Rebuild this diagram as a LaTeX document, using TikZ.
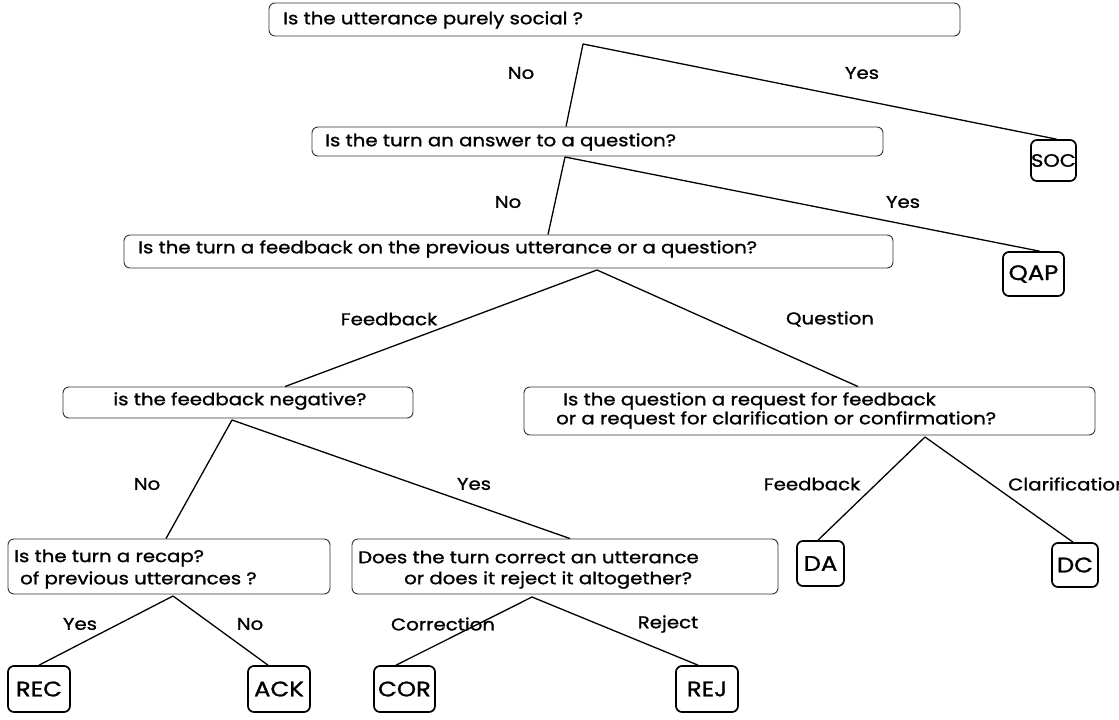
\documentclass[tikz,border=0pt]{standalone}
\usepackage{fontspec}
\setmainfont{Poppins}[FakeStretch=1.16, FakeBold=1.2]
\begin{document}
\begin{tikzpicture}[x=1pt,y=-1pt,
  qbox/.style={draw=black!80, line width=0.9pt, rounded corners=6pt, inner sep=0pt},
  leaf/.style={draw=black, line width=1.7pt, rounded corners=6pt, inner sep=0pt, font=\fontsize{21}{24}\selectfont},
  txt/.style={inner sep=0pt, anchor=west, font=\fontsize{17}{20}\selectfont},
  lbl/.style={inner sep=0pt, font=\fontsize{17}{20}\selectfont},
  edge/.style={draw=black, line width=1.3pt}]
\clip (0,0) rectangle (1119,720);
% question boxes
\node[qbox, minimum width=691pt, minimum height=33pt] (b1) at (614.5,19.5) {};
\node[qbox, minimum width=571pt, minimum height=29pt] (b2) at (597.5,141.5) {};
\node[qbox, minimum width=769pt, minimum height=33pt] (b3) at (508.5,251.5) {};
\node[qbox, minimum width=350pt, minimum height=31pt] (b4) at (238,402.5) {};
\node[qbox, minimum width=571pt, minimum height=48pt] (b5) at (809.5,411) {};
\node[qbox, minimum width=322pt, minimum height=55pt] (b6) at (169,566.5) {};
\node[qbox, minimum width=426pt, minimum height=55pt] (b7) at (565,566.5) {};
% box texts
\node[txt] (t1) at (283,20) {Is the utterance purely social ?};
\node[txt] (t2) at (325,142) {Is the turn an answer to a question?};
\node[txt] (t3) at (138,249) {Is the turn a feedback on the previous utterance or a question?};
\node[lbl] (t4) at (240,401) {is the feedback negative?};
\node[txt] (t5a) at (563,401) {Is the question a request for feedback};
\node[txt] (t5b) at (556,420) {or a request for clarification or confirmation?};
\node[txt] (t6a) at (14,558) {Is the turn a recap?};
\node[txt] (t6b) at (20,580) {of previous utterances ?};
\node[txt] (t7a) at (358,557) {Does the turn correct an utterance};
\node[txt] (t7b) at (404,580) {or does it reject it altogether?};
% leaves
\node[leaf, minimum width=45pt, minimum height=41pt, font=\fontsize{18}{21}\selectfont] (soc) at (1053.5,160.5) {SOC};
\node[leaf, minimum width=61pt, minimum height=44pt] (qap) at (1033.5,274) {QAP};
\node[leaf, minimum width=47pt, minimum height=45pt] (da) at (820.5,563.5) {DA};
\node[leaf, minimum width=46pt, minimum height=44pt] (dc) at (1075,565) {DC};
\node[leaf, minimum width=62pt, minimum height=46pt] (rec) at (39,689) {REC};
\node[leaf, minimum width=62pt, minimum height=46pt] (ack) at (279,689) {ACK};
\node[leaf, minimum width=61pt, minimum height=46pt] (cor) at (404.5,689) {COR};
\node[leaf, minimum width=62pt, minimum height=46pt] (rej) at (707,689) {REJ};
% branch points
\coordinate (p1) at (583,44);
\coordinate (p2) at (565,157);
\coordinate (p3) at (597,270);
\coordinate (p4) at (232,420);
\coordinate (p5) at (925,437);
\coordinate (p6) at (173,596);
\coordinate (p7) at (532,597);
% connectors
\draw[edge] (p1) -- ([xshift=-31.5pt]b2.north);
\draw[edge] (p1) -- ([xshift=3pt]soc.north);
\draw[edge] (p2) -- ([xshift=39.5pt]b3.north);
\draw[edge] (p2) -- ([xshift=6pt]qap.north);
\draw[edge] (p3) -- ([xshift=47pt]b4.north);
\draw[edge] (p3) -- ([xshift=48.5pt]b5.north);
\draw[edge] (p4) -- ([xshift=-3pt]b6.north);
\draw[edge] (p4) -- ([xshift=5pt]b7.north);
\draw[edge] (p5) -- ([xshift=-2.5pt]da.north);
\draw[edge] (p5) -- ([xshift=-2pt]dc.north);
\draw[edge] (p6) -- (rec.north);
\draw[edge] (p6) -- ([xshift=-11pt]ack.north);
\draw[edge] (p7) -- ([xshift=-8.5pt]cor.north);
\draw[edge] (p7) -- ([xshift=-9pt]rej.north);
% labels
\node[lbl] (l1) at (521,73) {No};
\node[lbl] (l2) at (862,73) {Yes};
\node[lbl] (l3) at (508,202) {No};
\node[lbl] (l4) at (903,202) {Yes};
\node[lbl] (l5) at (389,319) {Feedback};
\node[lbl] (l6) at (830,319) {Question};
\node[lbl] (l7) at (147,484) {No};
\node[lbl] (l8) at (474,484) {Yes};
\node[lbl] (l9) at (812,484) {Feedback};
\node[lbl, anchor=west] (l10) at (1008,484) {Clarification};
\node[lbl] (l11) at (80,624) {Yes};
\node[lbl] (l12) at (250,624) {No};
\node[lbl] (l13) at (443,624) {Correction};
\node[lbl] (l14) at (668,624) {Reject};
\end{tikzpicture}
\end{document}
